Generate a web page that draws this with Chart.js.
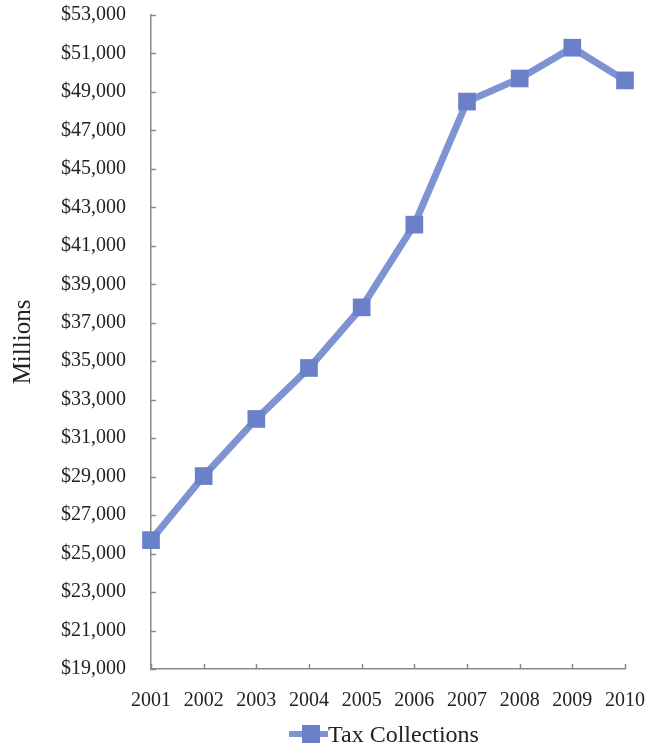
<!DOCTYPE html>
<html>
<head>
<meta charset="utf-8">
<script src="https://cdn.jsdelivr.net/npm/chart.js@4"></script>
<style>
  html, body { margin: 0; padding: 0; background: #fff; }
  #wrap { position: relative; width: 646px; height: 749px; }
  #legend {
    position: absolute; left: 289px; top: 720px; height: 28px;
    display: flex; align-items: center; white-space: nowrap;
    font-family: "Liberation Serif", "DejaVu Serif", serif; font-size: 24px; color: #222;
  }
  #legend .swatch { position: relative; width: 39px; height: 28px; }
  #legend .swatch .ln { position: absolute; left: 0; right: 0; top: 11px; height: 6px; background: #7f93d2; }
  #legend .swatch .sq { position: absolute; left: 13px; top: 5px; width: 18px; height: 18px; background: #6a80c8; }
</style>
</head>
<body>
<div id="wrap">
  <canvas id="chart" width="646" height="749"></canvas>
  <div id="legend"><span class="swatch"><span class="ln"></span><span class="sq"></span></span><span>Tax Collections</span></div>
</div>
<script>
const years = ['2001', '2002', '2003', '2004', '2005', '2006', '2007', '2008', '2009', '2010'];
const taxCollections = [25700, 29030, 32000, 34650, 37800, 42100, 48500, 49700, 51300, 49600];
const yMin = 19000;
const yMax = 53000;
const yStep = 2000;

const axisColor = '#8a8a8a';
const fontFamily = '"Liberation Serif", "DejaVu Serif", serif';

// short tick marks pointing into the plot, like the original
const innerTicks = {
    id: 'innerTicks',
    afterDraw(chart) {
        const ctx = chart.ctx;
        const xs = chart.scales.x, ys = chart.scales.y;
        const area = chart.chartArea;
        ctx.save();
        ctx.strokeStyle = axisColor;
        ctx.lineWidth = 1.5;
        ctx.beginPath();
        ys.ticks.forEach((t, i) => {
            const py = Math.round(ys.getPixelForTick(i)) + 0.5;
            ctx.moveTo(area.left, py);
            ctx.lineTo(area.left + 5, py);
        });
        xs.ticks.forEach((t, i) => {
            const px = Math.round(xs.getPixelForTick(i)) + 0.5;
            ctx.moveTo(px, area.bottom);
            ctx.lineTo(px, area.bottom - 5);
        });
        ctx.stroke();
        ctx.restore();
    }
};

new Chart(document.getElementById('chart'), {
    type: 'line',
    data: {
        labels: years,
        datasets: [{
            label: 'Tax Collections',
            data: taxCollections,
            borderColor: '#7f93d2',
            borderWidth: 7,
            backgroundColor: '#6a80c8',
            pointStyle: 'rect',
            pointRadius: 12.5,
            pointBorderWidth: 0,
            pointBackgroundColor: '#6a80c8',
            tension: 0,
            clip: false
        }]
    },
    options: {
        responsive: false,
        animation: false,
        layout: { autoPadding: false, padding: { left: 0, right: 21, top: 15, bottom: 0 } },
        plugins: {
            legend: { display: false },
            tooltip: { enabled: false }
        },
        scales: {
            x: {
                offset: false,
                grid: { display: false, drawTicks: false },
                border: { display: true, color: axisColor, width: 1.5 },
                ticks: {
                    padding: 20,
                    maxRotation: 0,
                    autoSkip: false,
                    color: '#222',
                    font: { family: fontFamily, size: 20 }
                },
                afterFit(scale) {
                    scale.height = 80;
                    scale.paddingLeft = 0;
                    scale.paddingRight = 0;
                }
            },
            y: {
                min: yMin,
                max: yMax,
                grid: { display: false, drawTicks: false },
                border: { display: true, color: axisColor, width: 1.5 },
                ticks: {
                    stepSize: yStep,
                    padding: 25,
                    color: '#222',
                    font: { family: fontFamily, size: 20 },
                    callback: v => '$' + v.toLocaleString('en-US')
                },
                title: {
                    display: true,
                    text: 'Millions',
                    color: '#222',
                    font: { family: fontFamily, size: 25 },
                    padding: { top: 8, bottom: 0 }
                },
                afterFit(scale) {
                    scale.width = 151;
                    scale.paddingTop = 0;
                    scale.paddingBottom = 0;
                }
            }
        }
    },
    plugins: [innerTicks]
});
</script>
</body>
</html>
